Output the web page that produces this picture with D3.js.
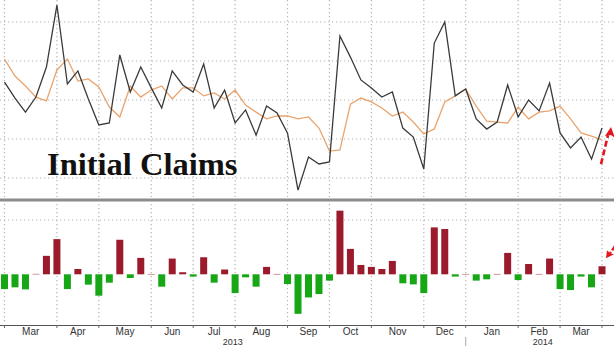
<!DOCTYPE html>
<html>
<head>
<meta charset="utf-8">
<script src="https://cdn.jsdelivr.net/npm/d3@7"></script>
<style>
  body { margin: 0; background: #fff; }
  svg { display: block; }
</style>
</head>
<body>
<script>
// weekly initial claims (thousands), week ending Saturday, 2013-02-23 .. 2014-03-29
const weeklyClaims = [349.2, 341.0, 333.8, 341.5, 356.9, 388.7, 348.2, 354.9, 340.5, 327.2,
  328.2, 363.1, 344.1, 356.9, 346.2, 335.9, 354.9, 347.7, 344.1, 358.5,
  335.9, 345.1, 328.2, 334.9, 322.0, 336.9, 333.3, 323.0, 293.8, 310.8,
  307.2, 308.2, 372.8, 362.0, 350.3, 346.2, 341.5, 344.1, 325.6, 321.0,
  304.6, 369.2, 380.0, 342.1, 345.6, 330.3, 325.1, 328.7, 347.7, 331.3,
  340.0, 334.4, 348.7, 323.1, 315.4, 321.0, 309.7, 325.6];

// 4 week moving average (thousands)
const fourWeekAvg = [361.0, 352.3, 347.2, 341.5, 339.5, 355.4, 361.0, 349.7, 350.8, 346.7,
  336.4, 331.3, 347.2, 341.5, 345.1, 347.2, 340.5, 346.2, 346.2, 342.1,
  343.6, 340.5, 345.1, 337.4, 333.8, 330.3, 331.8, 331.8, 330.3, 331.3,
  325.6, 313.8, 314.4, 337.9, 341.0, 339.0, 335.9, 331.8, 333.8, 328.7,
  322.6, 325.1, 339.0, 342.1, 345.6, 336.9, 329.2, 328.7, 328.2, 336.4,
  330.3, 333.8, 334.4, 336.9, 330.3, 323.1, 321.5, 319.5];

// claims minus 4 week average (thousands)
const claimsVsAvg = [-13.6, -12.0, -13.9, 0.5, 17.0, 32.4, -13.6, 4.9, -9.5, -19.7,
  -7.7, 31.8, -3.4, 15.1, 0.4, -11.4, 14.5, 1.9, -2.1, 15.7,
  -7.7, 4.4, -17.3, -2.8, -11.4, 6.8, 0.4, -9.0, -36.4, -21.3,
  -18.2, -5.8, 58.6, 23.4, 8.6, 6.8, 4.9, 12.3, -8.3, -9.3,
  -17.3, 43.2, 41.7, -2.1, 0.4, -5.8, -4.6, 0.4, 19.7, -5.3,
  9.5, 0.4, 14.5, -13.6, -14.5, -2.1, -12.0, 7.4];

const monthLabels = ["Mar", "Apr", "May", "Jun", "Jul", "Aug", "Sep", "Oct", "Nov", "Dec", "Jan", "Feb", "Mar"];
const yearLabels = ["2013", "2014"];
const topTicks = [300, 320, 340, 360, 380];
const bottomTicks = [50];

const width = 614, height = 346;
const firstWeek = new Date(2013, 1, 23);
const lastWeek = new Date(2014, 2, 29);
const weeks = d3.timeSaturday.range(firstWeek, d3.timeDay.offset(lastWeek, 1));

const svg = d3.select("body").append("svg")
    .attr("width", width)
    .attr("height", height);

const x = d3.scaleTime().domain([firstWeek, lastWeek]).range([4.5, 602]);
const yTop = d3.scaleLinear().domain([300, 380]).range([178, 22]);
const yBot = d3.scaleLinear().domain([0, 50]).range([274.3, 220]);

// month gridlines sit on the last saturday on or before the 1st
const monthStarts = d3.timeMonth.range(new Date(2013, 2, 1), new Date(2014, 4, 1))
    .map(d => d3.timeSaturday.floor(d));
const gridColor = "#b4b4b4";

//vertical gridlines, both panels
svg.append("g").selectAll("line")
    .data(monthStarts)
    .enter()
    .append("line")
    .attr("x1", d => x(d)).attr("x2", d => x(d))
    .attr("y1", 0).attr("y2", 197)
    .attr("stroke", gridColor).attr("stroke-width", 1.2)
    .attr("stroke-dasharray", "1.2,2.8");

svg.append("g").selectAll("line")
    .data(monthStarts)
    .enter()
    .append("line")
    .attr("x1", d => x(d)).attr("x2", d => x(d))
    .attr("y1", 204).attr("y2", 324)
    .attr("stroke", gridColor).attr("stroke-width", 1.2)
    .attr("stroke-dasharray", "1.2,2.8");

//horizontal gridlines
svg.append("g").selectAll("line")
    .data(topTicks)
    .enter()
    .append("line")
    .attr("x1", 0).attr("x2", width)
    .attr("y1", d => yTop(d)).attr("y2", d => yTop(d))
    .attr("stroke", gridColor).attr("stroke-width", 1.2)
    .attr("stroke-dasharray", "1.2,2.8");

svg.append("g").selectAll("line")
    .data(bottomTicks)
    .enter()
    .append("line")
    .attr("x1", 0).attr("x2", width)
    .attr("y1", d => yBot(d)).attr("y2", d => yBot(d))
    .attr("stroke", gridColor).attr("stroke-width", 1.2)
    .attr("stroke-dasharray", "1.2,2.8");

// title
svg.append("text")
    .attr("x", 47)
    .attr("y", 175)
    .attr("font-family", "'Liberation Serif', 'DejaVu Serif', serif")
    .attr("font-weight", "bold")
    .attr("font-size", "32.5px")
    .attr("fill", "#111")
    .text("Initial Claims");

// lines
const lineAvg = d3.line().x((d, i) => x(weeks[i])).y(d => yTop(d));
svg.append("path")
    .datum(fourWeekAvg)
    .attr("d", lineAvg)
    .attr("fill", "none")
    .attr("stroke", "#e9a46e")
    .attr("stroke-width", 1.3);

svg.append("path")
    .datum(weeklyClaims)
    .attr("d", lineAvg)
    .attr("fill", "none")
    .attr("stroke", "#3a3a3a")
    .attr("stroke-width", 1.3);

// panel separator
svg.append("line")
    .attr("x1", 0).attr("x2", width)
    .attr("y1", 200).attr("y2", 200)
    .attr("stroke", "#8c8c8c")
    .attr("stroke-width", 3);

// bars
const barW = 7;
svg.append("g").selectAll("rect")
    .data(claimsVsAvg)
    .enter()
    .append("rect")
    .attr("x", (d, i) => x(weeks[i]) - barW / 2)
    .attr("y", d => Math.min(yBot(d), yBot(0)))
    .attr("width", barW)
    .attr("height", d => Math.max(1, Math.abs(yBot(d) - yBot(0))))
    .attr("fill", d => d >= 0 ? "#9b1b2c" : "#16a616")
    .attr("opacity", d => Math.abs(d) < 1 ? 0.45 : 1);

// x axis
svg.append("line")
    .attr("x1", 0).attr("x2", width)
    .attr("y1", 325.5).attr("y2", 325.5)
    .attr("stroke", "#555")
    .attr("stroke-width", 1);

svg.append("g").selectAll("line")
    .data(monthStarts)
    .enter()
    .append("line")
    .attr("x1", d => x(d)).attr("x2", d => x(d))
    .attr("y1", 325).attr("y2", 328)
    .attr("stroke", "#666");

svg.append("g").selectAll("text")
    .data(monthLabels)
    .enter()
    .append("text")
    .attr("x", (d, i) => (x(monthStarts[i]) + x(monthStarts[i + 1])) / 2)
    .attr("y", 335)
    .attr("text-anchor", "middle")
    .attr("font-family", "'Liberation Sans Narrow', 'Liberation Sans', sans-serif")
    .attr("font-size", "10px")
    .attr("fill", "#333")
    .text(d => d);

// year labels and separator
const yearBreak = x(d3.timeSaturday.floor(new Date(2014, 0, 1)));
svg.append("line")
    .attr("x1", yearBreak).attr("x2", yearBreak)
    .attr("y1", 337).attr("y2", height)
    .attr("stroke", "#aaa");

svg.append("g").selectAll("text")
    .data(yearLabels)
    .enter()
    .append("text")
    .attr("x", (d, i) => i == 0 ? yearBreak / 2 : (yearBreak + width) / 2 + 3)
    .attr("y", 345)
    .attr("text-anchor", "middle")
    .attr("font-family", "'Liberation Sans Narrow', 'Liberation Sans', sans-serif")
    .attr("font-size", "9px")
    .attr("fill", "#333")
    .text(d => d);

// red arrows at the last week
const lastX = x(weeks[weeks.length - 1]);
const lastY = yTop(weeklyClaims[weeklyClaims.length - 1]);
const lastBar = yBot(claimsVsAvg[claimsVsAvg.length - 1]);
const red = "#e8141c";

svg.append("line")
    .attr("x1", lastX - 1).attr("y1", lastY + 36)
    .attr("x2", lastX + 6).attr("y2", lastY + 7)
    .attr("stroke", red).attr("stroke-width", 2.6)
    .attr("stroke-dasharray", "6,3");
svg.append("path")
    .attr("d", "M" + (lastX + 9) + "," + (lastY - 1) +
        " L" + (lastX + 13) + "," + (lastY + 10) +
        " L" + (lastX + 9) + "," + (lastY + 7) +
        " L" + (lastX + 3) + "," + (lastY + 8) + " Z")
    .attr("fill", red);

svg.append("line")
    .attr("x1", lastX + 13).attr("y1", lastBar - 20)
    .attr("x2", lastX + 8).attr("y2", lastBar - 13)
    .attr("stroke", red).attr("stroke-width", 2.4)
    .attr("stroke-dasharray", "5,2");
svg.append("path")
    .attr("d", "M" + (lastX + 4) + "," + (lastBar - 8) +
        " L" + (lastX + 5) + "," + (lastBar - 16) +
        " L" + (lastX + 8) + "," + (lastBar - 13) +
        " L" + (lastX + 12) + "," + (lastBar - 12) + " Z")
    .attr("fill", red);
</script>
</body>
</html>
